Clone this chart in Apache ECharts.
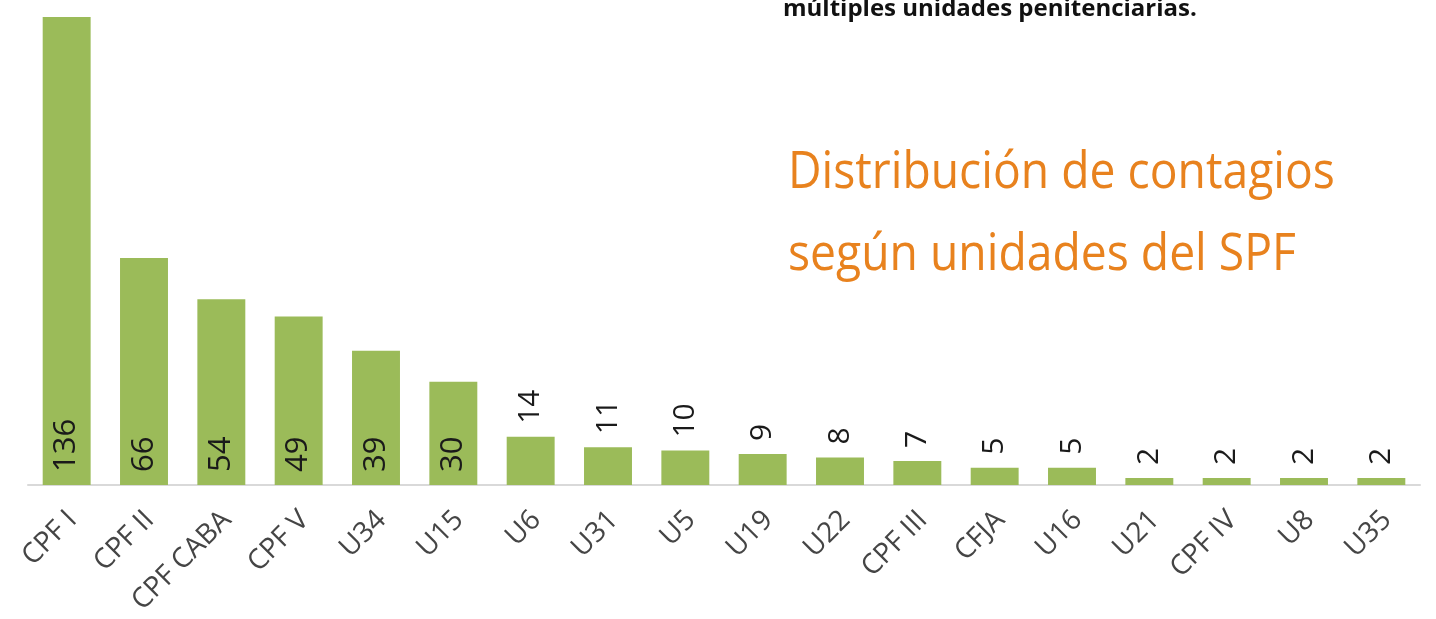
<!DOCTYPE html>
<html>
<head>
<meta charset="utf-8">
<script src="https://cdn.jsdelivr.net/npm/echarts@6/dist/echarts.min.js"></script>
<style>
  html, body { margin: 0; padding: 0; background: #fff; }
  #chart { width: 1436px; height: 619px; }
</style>
</head>
<body>
<div id="chart"></div>
<script>
// unidades del SPF y contagios
var unidades = ['CPF I', 'CPF II', 'CPF CABA', 'CPF V', 'U34', 'U15', 'U6', 'U31', 'U5',
  'U19', 'U22', 'CPF III', 'CFJA', 'U16', 'U21', 'CPF IV', 'U8', 'U35'];
var contagios = [136, 66, 54, 49, 39, 30, 14, 11, 10, 9, 8, 7, 5, 5, 2, 2, 2, 2];

var font = '"Open Sans", sans-serif';

// etiqueta dentro de la barra para las grandes, arriba para las chicas
var labelDentro = {
  show: true, position: 'insideBottom', rotate: 90, distance: 13,
  align: 'left', verticalAlign: 'middle',
  fontFamily: font, fontSize: 31, color: '#1a1a1a'
};
var labelArriba = {
  show: true, position: 'top', rotate: 90, distance: 13,
  align: 'left', verticalAlign: 'middle',
  fontFamily: font, fontSize: 30, color: '#1a1a1a'
};

var chart = echarts.init(document.getElementById('chart'));
chart.setOption({
  animation: false,
  grid: { left: 28, right: 16, top: 17, bottom: 134 },
  xAxis: {
    type: 'category',
    data: unidades,
    axisTick: { show: false },
    axisLine: { lineStyle: { color: '#d9d9d9', width: 2 } },
    axisLabel: {
      rotate: 45, interval: 0, margin: 25,
      verticalAlign: 'top', lineHeight: 16,
      fontFamily: font, fontSize: 28, color: '#454545'
    }
  },
  yAxis: { type: 'value', min: 0, max: 136, show: false },
  series: [{
    type: 'bar',
    barCategoryGap: '38%',
    itemStyle: { color: '#9bbb59' },
    data: contagios.map(function (v) {
      return { value: v, label: v >= 30 ? labelDentro : labelArriba };
    })
  }],
  graphic: [
    {
      type: 'text', x: 783, y: -3,
      style: {
        text: 'múltiples unidades penitenciarias.',
        font: 'bold 24px "Open Sans", sans-serif', fill: '#111',
        lineHeight: 24, verticalAlign: 'top'
      }
    },
    {
      type: 'text', x: 788, y: 132, scaleX: 0.89,
      style: {
        text: 'Distribución de contagios\nsegún unidades del SPF',
        font: '52px "Open Sans", sans-serif', fill: '#e8821e',
        lineHeight: 82, verticalAlign: 'top'
      }
    }
  ]
});
</script>
</body>
</html>
